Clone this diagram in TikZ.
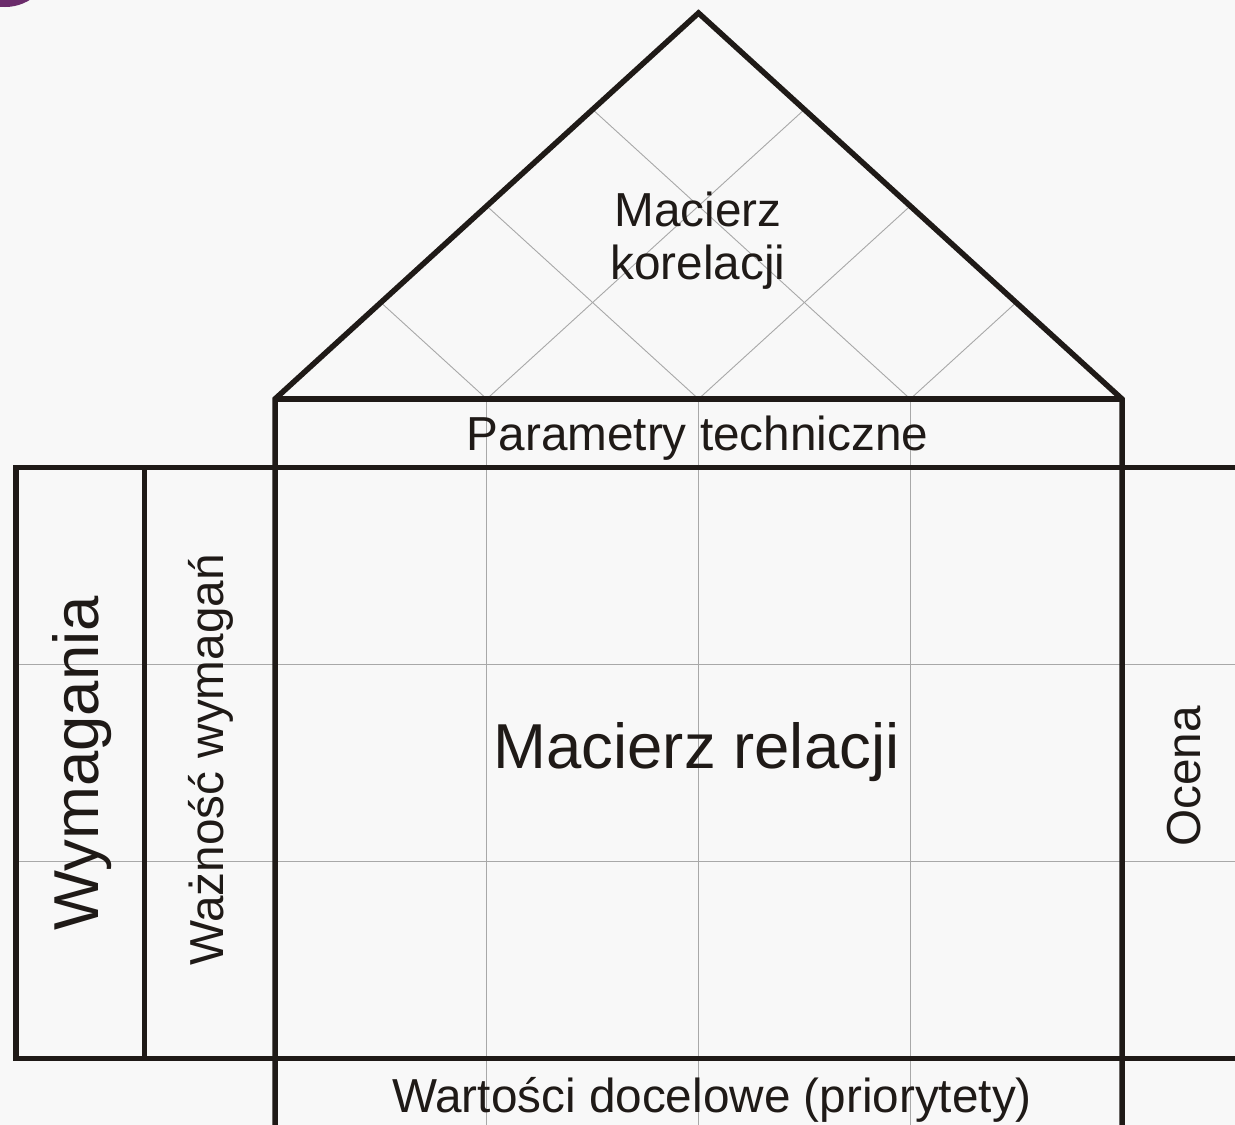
\documentclass[tikz,border=0pt]{standalone}
\usepackage{fontspec}
\setmainfont{Liberation Sans}
\usetikzlibrary{calc}
\definecolor{bgc}{HTML}{F8F8F8}
\definecolor{ink}{HTML}{1F1A17}
\definecolor{gridc}{HTML}{A8A8A8}
\definecolor{purp}{HTML}{6B2C6B}
\begin{document}
\begin{tikzpicture}[x=1pt,y=-1pt,
  thickline/.style={draw=ink,line width=5.5pt,line join=miter},
  thinline/.style={draw=gridc,line width=0.9pt},
  lbl/.style={text=ink,inner sep=0pt,font=\fontsize{47.7}{53}\selectfont},
  biglbl/.style={text=ink,inner sep=0pt,font=\fontsize{63.5}{70}\selectfont}]
\fill[bgc] (0,0) rectangle (1235,1125);
\useasboundingbox (0,0) rectangle (1235,1125);
\clip (0,0) rectangle (1235,1125);
\fill[purp] (5,-40) circle (47);

\coordinate (apex) at (698.5,13);
\coordinate (rl) at (275,399);
\coordinate (rr) at (1122,399);
\coordinate (tl) at (16,467.5);
\coordinate (bl) at (16,1058.5);

% thin grid
\foreach \i in {1,2,3} {
  \pgfmathsetmacro{\j}{(4-\i)/4}
  \coordinate (b\i) at ($(rl)!\i/4!(rr)$);
  \draw[thinline] ($(rl)!\i/4!(apex)$) -- (b\i) -- ($(rr)!\j!(apex)$);
  \draw[thinline] (b\i) -- ++(0,730);
}
\draw[thinline] (16,664) -- (1235,664);
\draw[thinline] (16,861) -- (1235,861);

% thick frame
\draw[thickline] (275,1130) -- (rl) -- (apex) -- (rr) -- (1122,1130);
\draw[thickline] (rl) -- (rr);
\draw[thickline] (1240,467.5) -- (tl) -- (bl) -- (1240,1058.5);
\draw[thickline] (144.5,467.5) -- (144.5,1058.5);

% labels
\node[lbl,anchor=base] (param) at (697.5,450) {Parametry techniczne};
\node[lbl,align=center] (korel) at (698,241) {Macierz\\korelacji};
\node[biglbl,anchor=base] (rel) at (696.5,768) {Macierz relacji};
\node[lbl,anchor=base] (target) at (712,1112) {Wartości docelowe (priorytety)};
\node[biglbl,anchor=base,rotate=90] (req) at (98,763.5) {Wymagania};
\node[lbl,anchor=base,rotate=90] (imp) at (223,760) {Ważność wymagań};
\node[lbl,anchor=base,rotate=90] (ocena) at (1200,776.5) {Ocena};
\end{tikzpicture}
\end{document}
